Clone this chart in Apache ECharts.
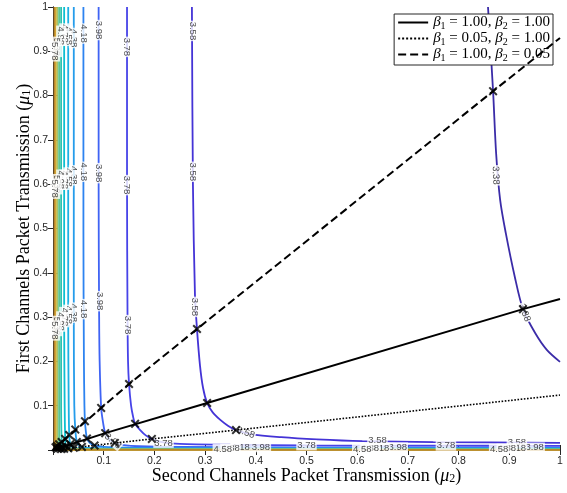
<!DOCTYPE html>
<html><head><meta charset="utf-8">
<script src="https://cdn.jsdelivr.net/npm/echarts@6/dist/echarts.min.js"></script>
<style>html,body{margin:0;padding:0;background:#fff}#c{width:567px;height:493px}</style>
</head><body><div id="c"></div>
<script>
// ---- data (x = mu2, y = mu1) ----
const levels = ['3.38','3.58','3.78','3.98','4.18','4.38','4.58','4.78','4.98','5.18','5.38','5.58','5.78'];
const c338 = [[0.858,1],[0.868,0.81],[0.874,0.67],[0.882,0.564],[0.893,0.49],[0.911,0.39],[0.927,0.318],[0.951,0.264],[0.974,0.226],[1,0.199]];
const c358 = [[0.274,1],[0.276,0.6],[0.28,0.35],[0.284,0.273],[0.29,0.19],[0.296,0.14],[0.304,0.106],[0.315,0.085],[0.33,0.068],[0.345,0.055],[0.361,0.045],[0.39,0.036],[0.45,0.029],[0.52,0.024],[0.61,0.02],[0.75,0.018],[1,0.016]];
const c378 = [[0.146,1],[0.146,0.6],[0.147,0.3],[0.148,0.2],[0.15,0.149],[0.154,0.1],[0.158,0.075],[0.162,0.059],[0.172,0.045],[0.183,0.033],[0.195,0.025],[0.215,0.018],[0.25,0.014],[0.35,0.012],[0.5,0.0105],[0.75,0.0098],[1,0.0095]];
const c398 = [[0.090,1],[0.090,0.6],[0.091,0.3],[0.092,0.2],[0.095,0.095],[0.099,0.06],[0.103,0.038],[0.11,0.025],[0.122,0.016],[0.14,0.011],[0.17,0.0085],[0.25,0.007],[0.5,0.006],[1,0.0055]];
const c418 = [[0.060,1],[0.060,0.5],[0.061,0.2],[0.062,0.1],[0.063,0.065],[0.065,0.04],[0.067,0.026],[0.072,0.017],[0.082,0.0102],[0.1,0.007],[0.15,0.0055],[0.3,0.0048],[1,0.0045]];
const c438 = [[0.041,1],[0.041,0.3],[0.042,0.1],[0.044,0.046],[0.047,0.018],[0.051,0.011],[0.057,0.007],[0.07,0.0045],[0.1,0.0035],[0.3,0.003],[1,0.003]];
const c458 = [[0.030,1],[0.030,0.3],[0.031,0.1],[0.032,0.034],[0.034,0.013],[0.038,0.007],[0.045,0.004],[0.07,0.003],[1,0.0025]];
const c478 = [[0.022,1],[0.022,0.3],[0.023,0.1],[0.024,0.025],[0.025,0.009],[0.029,0.005],[0.035,0.003],[0.06,0.0022],[1,0.002]];
const c498 = [[0.016,1],[0.016,0.1],[0.017,0.018],[0.018,0.0065],[0.021,0.004],[0.027,0.0025],[0.05,0.0018],[1,0.0016]];
const c518 = [[0.012,1],[0.012,0.05],[0.012,0.013],[0.013,0.0045],[0.017,0.0027],[0.03,0.0013],[1,0.0011]];
const c538 = [[0.008,1],[0.008,0.04],[0.008,0.009],[0.01,0.003],[0.02,0.001],[1,0.0008]];
const c558 = [[0.005,1],[0.005,0.02],[0.005,0.006],[0.009,0.0018],[0.02,0.0006],[1,0.0005]];
const c578 = [[0.003,1],[0.003,0.01],[0.004,0.003],[0.008,0.0008],[1,0.0003]];
const contours = [c338,c358,c378,c398,c418,c438,c458,c478,c498,c518,c538,c558,c578];

const solidLine  = [[0,0],[0.103,0.038],[0.304,0.106],[0.927,0.318],[1,0.341]];
const dottedLine = [[0,0],[0.195,0.025],[0.361,0.045],[1,0.124]];
const dashedLine = [[0,0],[0.095,0.095],[0.15,0.149],[0.284,0.273],[0.868,0.81],[1,0.93]];

const solidCross  = [[0.927,0.318],[0.304,0.106],[0.162,0.059],[0.103,0.038],[0.067,0.026],[0.047,0.018],[0.034,0.013],[0.025,0.009],[0.018,0.0065],[0.013,0.0045],[0.009,0.003]];
const dottedCross = [[0.361,0.045],[0.195,0.025],[0.122,0.016],[0.082,0.0102],[0.057,0.007],[0.041,0.005],[0.03,0.0037],[0.022,0.0027],[0.016,0.002]];
const dashedCross = [[0.868,0.81],[0.284,0.273],[0.15,0.149],[0.095,0.095],[0.063,0.065],[0.044,0.046],[0.032,0.034],[0.024,0.025],[0.017,0.018],[0.012,0.013],[0.008,0.009],[0.005,0.006]];

// contour label anchors: [mu2, mu1, text, angle]
const contourLabels = [
  [0.873,0.62,'3.38',-88],[0.93,0.31,'3.38',-70],
  [0.275,0.946,'3.58',-90],[0.276,0.628,'3.58',-90],[0.279,0.323,'3.58',-90],
  [0.146,0.91,'3.78',-90],[0.146,0.598,'3.78',-90],[0.147,0.282,'3.78',-90],
  [0.090,0.948,'3.98',-90],[0.090,0.625,'3.98',-90],[0.091,0.336,'3.98',-90],
  [0.060,0.94,'4.18',-90],[0.060,0.628,'4.18',-90],[0.0605,0.318,'4.18',-90],
  [0.041,0.93,'4.38',-90],[0.041,0.62,'4.38',-90],[0.041,0.31,'4.38',-90],
  [0.030,0.935,'4.58',-90],[0.030,0.615,'4.58',-90],[0.030,0.305,'4.58',-90],
  [0.022,0.94,'4.78',-90],[0.022,0.61,'4.78',-90],[0.022,0.30,'4.78',-90],
  [0.016,0.935,'4.98',-90],[0.016,0.61,'4.98',-90],[0.016,0.29,'4.98',-90],
  [0.008,0.91,'5.38',-90],[0.008,0.6,'5.38',-90],[0.008,0.28,'5.38',-90],
  [0.004,0.9,'5.78',-90],[0.004,0.59,'5.78',-90],[0.004,0.27,'5.78',-90],
  [0.38,0.039,'3.58',-20],[0.64,0.021,'3.58',0],[0.915,0.017,'3.58',0],
  [0.218,0.016,'3.78',0],[0.50,0.0105,'3.78',0],[0.775,0.0098,'3.78',0],
  [0.118,0.02,'3.98',-40],[0.41,0.0062,'3.98',0],[0.68,0.0058,'3.98',0],[0.95,0.0055,'3.98',0],
  [0.37,0.0048,'4.18',0],[0.645,0.0047,'4.18',0],[0.915,0.0046,'4.18',0],
  [0.35,0.003,'4.38',0],[0.625,0.003,'4.38',0],[0.895,0.003,'4.38',0],
  [0.335,0.0025,'4.58',0],[0.61,0.0025,'4.58',0],[0.88,0.0025,'4.58',0]
];

// ---- styles ----
const contourColors = ['#3b2ca8','#4433d6','#4743e8','#3f63f4','#2d83f0','#259ceb','#19b0e4','#0cbfd0','#2cc2ae','#5cc48e','#a6c060','#e3b83c','#b9862a'];
const TXT = '#262626';
const crossPath = 'path://M0,1.6L1.6,0L5,3.4L8.4,0L10,1.6L6.6,5L10,8.4L8.4,10L5,6.6L1.6,10L0,8.4L3.4,5Z';

const series = [];
contours.forEach((pts, i) => {
  series.push({
    type: 'line', name: 'c' + levels[i], data: pts, smooth: 0.3, symbol: 'none',
    lineStyle: { color: contourColors[i], width: 1.8 }, itemStyle: { color: contourColors[i] }, z: 2, silent: true
  });
});
series.push({
  type: 'scatter', data: contourLabels.map(d => ({ value: [d[0], d[1]], name: d[2],
    label: { rotate: d[3] } })),
  symbolSize: 1, itemStyle: { color: 'rgba(0,0,0,0)' }, z: 4, silent: true,
  label: { show: true, position: 'inside', formatter: p => p.name, fontSize: 9.5,
    fontFamily: 'Liberation Sans', color: '#222', backgroundColor: '#fff', padding: [0, 1] }
});
const lineDefs = [
  ['L1', solidLine, 'solid', 2],
  ['L2', dottedLine, 'dotted', 1.6],
  ['L3', dashedLine, 'dashed', 2]
];
lineDefs.forEach(d => {
  series.push({ type: 'line', name: d[0], data: d[1], symbol: 'none', showSymbol: false, z: 5,
    itemStyle: { color: '#000' },
    lineStyle: { color: '#000', width: d[3], type: d[2] } });
});
[solidCross, dottedCross, dashedCross].forEach(c => {
  series.push({ type: 'scatter', data: c, symbol: crossPath, symbolSize: 9,
    itemStyle: { color: '#000' }, z: 6 });
});

const legendText = {
  L1: '{b|β}{s|1}{t| = 1.00, }{b|β}{s|2}{t| = 1.00}',
  L2: '{b|β}{s|1}{t| = 0.05, }{b|β}{s|2}{t| = 1.00}',
  L3: '{b|β}{s|1}{t| = 1.00, }{b|β}{s|2}{t| = 0.05}'
};

const chart = echarts.init(document.getElementById('c'), null, { renderer: 'canvas' });
const axisCommon = {
  type: 'value', min: 0, max: 1, interval: 0.1,
  axisLine: { show: true, lineStyle: { color: TXT, width: 1 } },
  axisTick: { show: true, inside: true, length: 5, lineStyle: { color: TXT } },
  splitLine: { show: false }
};
const serifRich = {
  t: { fontFamily: 'Liberation Serif', fontSize: 18, color: '#000' },
  m: { fontFamily: 'Liberation Serif', fontStyle: 'italic', fontSize: 18, color: '#000' },
  s: { fontFamily: 'Liberation Serif', fontSize: 12, color: '#000', verticalAlign: 'bottom', padding: [0, 0, 0, 0] }
};
chart.setOption({
  animation: false,
  backgroundColor: '#fff',
  grid: { left: 53, right: 7, top: 7, bottom: 43, containLabel: false },
  xAxis: [
    Object.assign({}, axisCommon, {
      position: 'bottom',
      axisLabel: { show: true, showMinLabel: false, margin: 6, fontSize: 10.5, fontFamily: 'Liberation Sans', color: TXT },
      name: '{t|Second Channels Packet Transmission (}{m|μ}{s|2}{t|)}',
      nameLocation: 'middle', nameGap: 17, nameMoveOverlap: false,
      nameTextStyle: { rich: serifRich }
    }),
    Object.assign({}, axisCommon, { position: 'top', axisLabel: { show: false } })
  ],
  yAxis: [
    Object.assign({}, axisCommon, {
      position: 'left',
      axisLabel: { show: true, showMinLabel: false, margin: 5, fontSize: 10.5, fontFamily: 'Liberation Sans', color: TXT },
      name: '{t|First Channels Packet Transmission (}{m|μ}{s|1}{t|)}',
      nameLocation: 'middle', nameGap: 20, nameMoveOverlap: false,
      nameTextStyle: { rich: serifRich }
    }),
    Object.assign({}, axisCommon, { position: 'right', axisLabel: { show: false } })
  ],
  legend: {
    data: ['L1', 'L2', 'L3'], orient: 'vertical', right: 14, top: 14,
    backgroundColor: '#fff', borderColor: TXT, borderWidth: 1, borderRadius: 0,
    padding: [1, 3, 2, 3], itemGap: 0, itemWidth: 30, itemHeight: 10,
    itemStyle: { opacity: 0 },
    formatter: n => legendText[n],
    textStyle: {
      rich: {
        b: { fontFamily: 'Liberation Serif', fontStyle: 'italic', fontSize: 15, color: '#000', lineHeight: 17 },
        s: { fontFamily: 'Liberation Serif', fontSize: 10, color: '#000', verticalAlign: 'bottom' },
        t: { fontFamily: 'Liberation Serif', fontSize: 15, color: '#000', lineHeight: 17 }
      }
    }
  },
  series: series
});
</script>
</body></html>
